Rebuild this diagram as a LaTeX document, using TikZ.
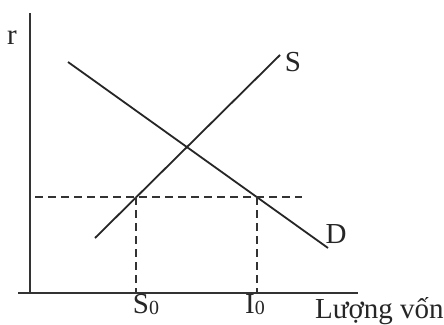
\documentclass[tikz,border=0pt]{standalone}
\usepackage{fontspec}
\setmainfont{Liberation Serif}
\begin{document}
\begin{tikzpicture}[x=1pt,y=-1pt,
  axis/.style={line width=1.7pt,color=black!80},
  curve/.style={line width=1.8pt,color=black!85},
  guide/.style={line width=1.6pt,color=black!80,dash pattern=on 8pt off 5pt},
  lbl/.style={inner sep=0pt,anchor=base,font=\fontsize{29}{29}\selectfont,text=black!85},
]
\useasboundingbox (0,0) rectangle (444,324);
\fill[white] (0,0) rectangle (444,324);
\newcommand{\subz}{\raisebox{-1pt}{\fontsize{20}{20}\selectfont 0}}
% axes
\coordinate (ytop) at (30,13);
\coordinate (ybot) at (30,293);
\coordinate (xl) at (18,293);
\coordinate (xr) at (358,293);
\draw[axis] (ytop) -- (ybot);
\draw[axis] (xl) -- (xr);
% curves
\coordinate (d1) at (68,62);
\coordinate (d2) at (328,248);
\coordinate (s1) at (95,238);
\coordinate (s2) at (280,55);
\draw[curve] (d1) -- (d2);
\draw[curve] (s1) -- (s2);
% dashed guides
\coordinate (hl) at (35,197);
\coordinate (hr) at (302,197);
\coordinate (pS) at (136,197);
\coordinate (pI) at (257,197);
\coordinate (qS) at (136,293);
\coordinate (qI) at (257,293);
\draw[guide] (hl) -- (hr);
\draw[guide] (pS) -- (qS);
\draw[guide] (pI) -- (qI);
% labels
\node[lbl] (r) at (12,44) {r};
\node[lbl] (S) at (293,71) {S};
\node[lbl] (D) at (336,243) {D};
\node[lbl] (S0) at (146,313) {S\subz};
\node[lbl] (I0) at (255,313) {I\subz};
\node[lbl,anchor=base west] (lv) at (315,318) {Lượng vốn};
\end{tikzpicture}
\end{document}
